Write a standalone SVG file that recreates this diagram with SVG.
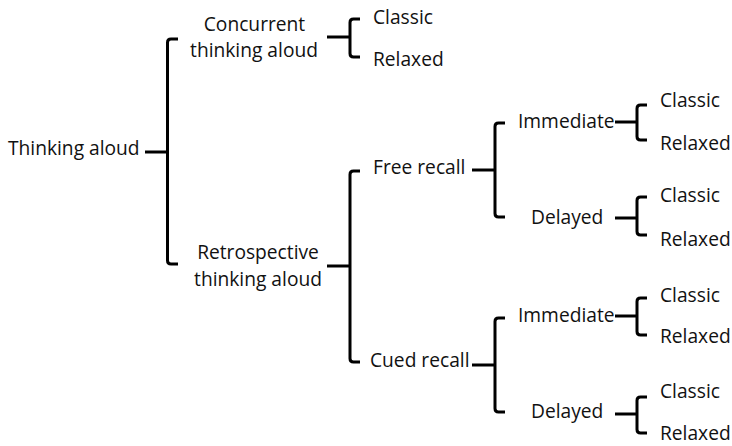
<svg xmlns="http://www.w3.org/2000/svg" width="732" height="446" viewBox="0 0 732 446">
<style>
.c{fill:none;stroke:#000;stroke-width:3;stroke-linejoin:round;stroke-linecap:butt}
text{font-family:"Open Sans","Noto Sans",sans-serif;font-size:19.2px;fill:#111}
.m{text-anchor:middle}
</style>
<rect width="732" height="446" fill="#fff"/>
<g id="connectors">
<path class="c" d="M145,152H167.5"/>
<path class="c" d="M178,39H171Q167.5,39 167.5,42.5V260.5Q167.5,264 171,264H178"/>
<path class="c" d="M327,37H350"/>
<path class="c" d="M360,19H353.5Q350,19 350,22.5V53.5Q350,57 353.5,57H360"/>
<path class="c" d="M327,266H350"/>
<path class="c" d="M360,171H353.5Q350,171 350,174.5V358.5Q350,362 353.5,362H360"/>
<path class="c" d="M472,170H495"/>
<path class="c" d="M505,123H498.5Q495,123 495,126.5V213.5Q495,217 498.5,217H505"/>
<path class="c" d="M472,365H495"/>
<path class="c" d="M505,318H498.5Q495,318 495,321.5V408.5Q495,412 498.5,412H505"/>
<path class="c" d="M615,122H637"/>
<path class="c" d="M647,105H640.5Q637,105 637,108.5V136.5Q637,140 640.5,140H647"/>
<path class="c" d="M615,218H637"/>
<path class="c" d="M647,197H640.5Q637,197 637,200.5V231.5Q637,235 640.5,235H647"/>
<path class="c" d="M615,316H637"/>
<path class="c" d="M647,298H640.5Q637,298 637,301.5V331.5Q637,335 640.5,335H647"/>
<path class="c" d="M615,414H637"/>
<path class="c" d="M647,397H640.5Q637,397 637,400.5V429.5Q637,433 640.5,433H647"/>
</g>
<g id="thinking-aloud"><text x="8" y="155">Thinking aloud</text></g>
<g id="concurrent"><text class="m" x="254.5" y="31">Concurrent</text><text class="m" x="254" y="57">thinking aloud</text></g>
<g id="concurrent-classic"><text x="373" y="24">Classic</text></g>
<g id="concurrent-relaxed"><text x="373" y="66">Relaxed</text></g>
<g id="retrospective"><text class="m" x="258" y="259">Retrospective</text><text class="m" x="258" y="286">thinking aloud</text></g>
<g id="free-recall"><text x="373" y="174">Free recall</text></g>
<g id="free-immediate"><text x="518" y="128">Immediate</text></g>
<g id="free-immediate-classic"><text x="660" y="107">Classic</text></g>
<g id="free-immediate-relaxed"><text x="660" y="150">Relaxed</text></g>
<g id="free-delayed"><text x="531" y="224">Delayed</text></g>
<g id="free-delayed-classic"><text x="660" y="202">Classic</text></g>
<g id="free-delayed-relaxed"><text x="660" y="246">Relaxed</text></g>
<g id="cued-recall"><text x="370" y="367">Cued recall</text></g>
<g id="cued-immediate"><text x="518" y="322">Immediate</text></g>
<g id="cued-immediate-classic"><text x="660" y="302">Classic</text></g>
<g id="cued-immediate-relaxed"><text x="660" y="343">Relaxed</text></g>
<g id="cued-delayed"><text x="531" y="418">Delayed</text></g>
<g id="cued-delayed-classic"><text x="660" y="398">Classic</text></g>
<g id="cued-delayed-relaxed"><text x="660" y="440">Relaxed</text></g>
</svg>
